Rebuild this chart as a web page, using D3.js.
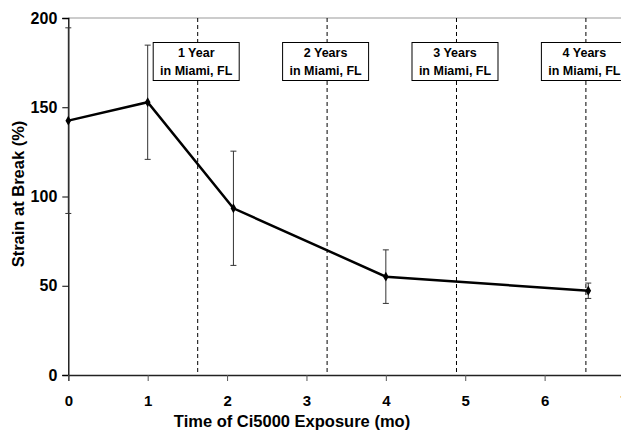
<!DOCTYPE html>
<html>
<head>
<meta charset="utf-8">
<script src="https://cdn.jsdelivr.net/npm/d3@7"></script>
<style>
  body { margin: 0; background: #fff; }
  svg text { font-family: "Liberation Sans", Arial, sans-serif !important; font-weight: 700; }
</style>
</head>
<body>
<div id="chart"></div>
<script>
// data
const months = [0, 1, 2.08, 4, 6.55];
const strain = [142.5, 152.8, 93.4, 55.1, 47.2];
const strainErr = [52, 32, 32, 15, 4.3];
const yearMarks = [1.63, 3.26, 4.89, 6.52];
const yearLabels = ["1 Year", "2 Years", "3 Years", "4 Years"];
const xTicks = [0, 1, 2, 3, 4, 5, 6, 7];
const yTicks = [0, 50, 100, 150, 200];

const width = 621, height = 434;
const x = d3.scaleLinear().domain([0, 7]).range([68.3, 624]);
const y = d3.scaleLinear().domain([0, 200]).range([375, 18]);

const svg = d3.select("#chart").append("svg")
  .attr("width", width)
  .attr("height", height);

// top frame line
svg.append("line")
  .attr("x1", x(0)).attr("x2", width)
  .attr("y1", y(200)).attr("y2", y(200))
  .attr("stroke", "#999").attr("stroke-width", 1);

// dashed year lines
svg.append("g").selectAll("line")
  .data(yearMarks)
  .enter().append("line")
  .attr("x1", d => x(d)).attr("x2", d => x(d))
  .attr("y1", y(200)).attr("y2", y(0))
  .attr("stroke", "#000").attr("stroke-width", 1)
  .attr("stroke-dasharray", "4,3");

// year boxes
const boxes = svg.append("g").selectAll("g")
  .data(yearMarks)
  .enter().append("g")
  .attr("transform", d => "translate(" + (x(d) - 1.5) + ",0)");

boxes.append("rect")
  .attr("x", -43).attr("y", 42.5)
  .attr("width", 86).attr("height", 38)
  .attr("fill", "#fff").attr("stroke", "#000").attr("stroke-width", 1);

boxes.append("text")
  .attr("y", 57).attr("text-anchor", "middle")
  .style("font-size", "12.5px")
  .text((d, i) => yearLabels[i]);

boxes.append("text")
  .attr("y", 75).attr("text-anchor", "middle")
  .style("font-size", "12.5px")
  .text("in Miami, FL");

// axes
const yAxis = svg.append("g")
  .attr("transform", "translate(" + x(0) + ",0)")
  .call(d3.axisLeft(y).tickValues(yTicks).tickFormat(d3.format("d")).tickSize(6).tickPadding(5));
yAxis.select(".domain").attr("stroke", "#000").attr("stroke-width", 1.3);
yAxis.selectAll("text").style("font-size", "16px").attr("fill", "#000");

const xAxis = svg.append("g")
  .attr("transform", "translate(0," + y(0) + ")")
  .call(d3.axisBottom(x).tickValues(xTicks).tickFormat(d3.format("d")).tickSize(6).tickPadding(14));
xAxis.select(".domain").attr("stroke", "#222").attr("stroke-width", 1.3);
xAxis.selectAll("line").attr("stroke", "#555");
xAxis.selectAll("text").style("font-size", "15px").attr("fill", "#000");

// error bars
const pts = months.map((m, i) => ({ m: m, v: strain[i], e: strainErr[i] }));
const err = svg.append("g").selectAll("g")
  .data(pts)
  .enter().append("g");
err.append("line")
  .attr("x1", d => x(d.m)).attr("x2", d => x(d.m))
  .attr("y1", d => y(d.v + d.e)).attr("y2", d => y(d.v - d.e))
  .attr("stroke", "#333").attr("stroke-width", 1);
[1, -1].forEach(s => {
  err.append("line")
    .attr("x1", d => x(d.m) - 3).attr("x2", d => x(d.m) + 3)
    .attr("y1", d => y(d.v + s * d.e)).attr("y2", d => y(d.v + s * d.e))
    .attr("stroke", "#333").attr("stroke-width", 1);
});

// data line
const line = d3.line().x(d => x(d.m)).y(d => y(d.v));
svg.append("path")
  .datum(pts)
  .attr("d", line)
  .attr("fill", "none")
  .attr("stroke", "#000")
  .attr("stroke-width", 2.5);

svg.append("g").selectAll("path")
  .data(pts)
  .enter().append("path")
  .attr("transform", d => "translate(" + x(d.m) + "," + y(d.v) + ")")
  .attr("d", d3.symbol().type(d3.symbolDiamond).size(28))
  .attr("fill", "#000");

// axis titles
svg.append("text")
  .attr("x", 292).attr("y", 427)
  .attr("text-anchor", "middle")
  .style("font-size", "16.5px")
  .text("Time of Ci5000 Exposure (mo)");

svg.append("text")
  .attr("transform", "translate(24,194) rotate(-90)")
  .attr("text-anchor", "middle")
  .style("font-size", "16.5px")
  .text("Strain at Break (%)");
</script>
</body>
</html>
